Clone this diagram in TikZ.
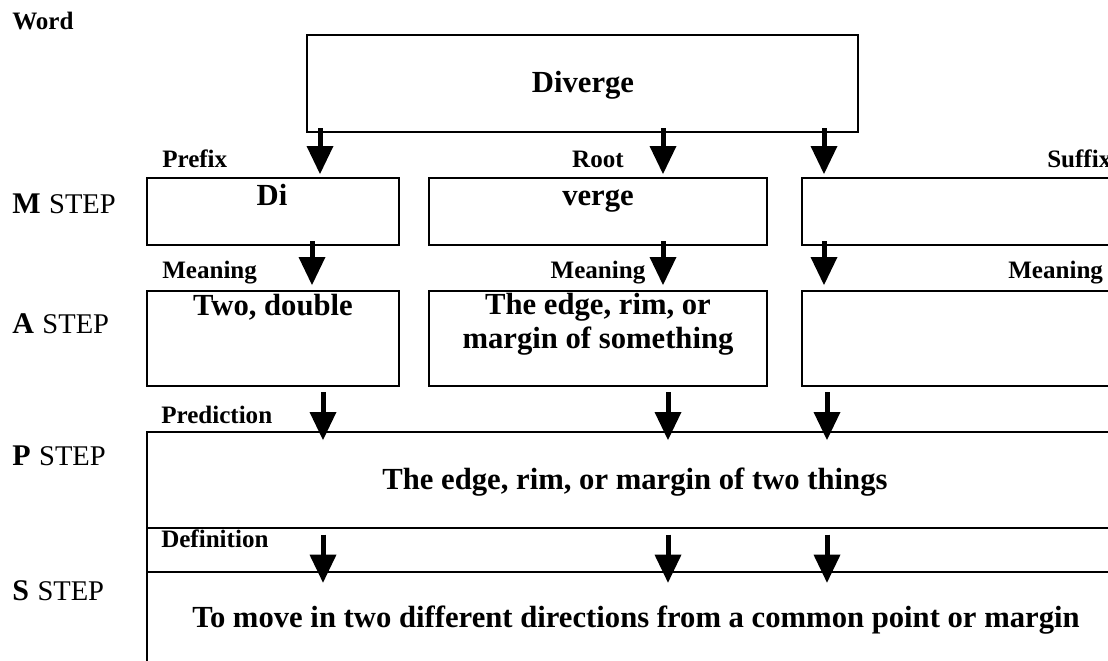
\documentclass[tikz,border=0pt]{standalone}
\usepackage{fontspec}
\setmainfont{Liberation Serif}
\usetikzlibrary{arrows.meta,calc}
\newcommand\mainf{\fontsize{23}{25.5}\selectfont\bfseries}
\newcommand\lblf{\fontsize{18.8}{20}\selectfont\bfseries}
\newcommand\stepf{\fontsize{21.4}{24}\selectfont}
\newcommand\stepletter[1]{{\fontsize{22.5}{24}\selectfont\bfseries #1}\hspace{0.3em}}
\begin{document}
\begin{tikzpicture}[x=0.75pt,y=-0.75pt,
  box/.style={draw,line width=1.8pt,inner sep=0pt,outer sep=0pt,rectangle},
  maintext/.style={font=\mainf,inner sep=0pt,align=center,anchor=base},
  lbl/.style={font=\lblf,inner sep=0pt,anchor=base},
  lblw/.style={font=\lblf,inner sep=0pt,anchor=base west},
  steplbl/.style={font=\stepf,inner sep=0pt,anchor=base west},
  arr/.style={line width=3.75pt,-{Triangle[width=20.25pt,length=21pt,line width=0pt]}}]
\useasboundingbox (0,0) rectangle (1108,661);
\clip (0,0) rectangle (1108,661);
% boxes
\node[box,minimum width=413.25pt,minimum height=72.75pt] (wd) at (582.5,83.5) {};
\node[box,minimum width=189pt,minimum height=50.25pt] (m1) at (273,211.5) {};
\node[box,minimum width=253.5pt,minimum height=50.25pt] (m2) at (598,211.5) {};
\node[box,minimum width=238.5pt,minimum height=50.25pt] (m3) at (961,211.5) {};
\node[box,minimum width=189pt,minimum height=71.25pt] (a1) at (273,338.5) {};
\node[box,minimum width=253.5pt,minimum height=71.25pt] (a2) at (598,338.5) {};
\node[box,minimum width=238.5pt,minimum height=71.25pt] (a3) at (961,338.5) {};
\node[box,minimum width=729.75pt,minimum height=72pt] (p) at (633.5,480) {};
\node[box,minimum width=729.75pt,minimum height=33pt] (df) at (633.5,550) {};
\node[box,minimum width=729.75pt,minimum height=73.5pt] (s) at (633.5,621) {};
% texts
\node[maintext] (twd) at (583,92) {Diverge};
\node[maintext] (tm1) at (272,205) {Di};
\node[maintext] (tm2) at (598,205) {verge};
\node[maintext] (ta1) at (273,315) {Two, double};
\node[maintext] (ta2a) at (598,314) {The edge, rim, or};
\node[maintext] (ta2b) at (598,348) {margin of something};
\node[maintext] (tp) at (635,489) {The edge, rim, or margin of two things};
\node[maintext] (ts) at (636,627) {To move in two different directions from a common point or margin};
% labels
\node[lblw] (lword) at (12,29) {Word};
\node[lblw] (lpre) at (162,167) {Prefix};
\node[lbl] (lroot) at (598,167) {Root};
\node[lblw] (lsuf) at (1047,167) {Suffix};
\node[lblw] (lme1) at (162,278) {Meaning};
\node[lbl] (lme2) at (598,278) {Meaning};
\node[lblw] (lme3) at (1008,278) {Meaning};
\node[lblw] (lpred) at (161,423) {Prediction};
\node[lblw] (ldef) at (161,547) {Definition};
% step labels
\node[steplbl] (sm) at (12,213) {\stepletter{M}STEP};
\node[steplbl] (sa) at (12,333) {\stepletter{A}STEP};
\node[steplbl] (sp) at (12,465) {\stepletter{P}STEP};
\node[steplbl] (ss) at (12,600) {\stepletter{S}STEP};
% arrow columns
\coordinate (c1a) at (320,0);
\coordinate (c1b) at (312,0);
\coordinate (c1c) at (323,0);
\coordinate (c2a) at (663,0);
\coordinate (c2c) at (668,0);
\coordinate (c3a) at (824,0);
\coordinate (c3c) at (827,0);
% row 1
\draw[arr] ([yshift=3pt]wd.south -| c1a) -- ([yshift=3pt]m1.north -| c1a);
\draw[arr] ([yshift=3pt]wd.south -| c2a) -- ([yshift=3pt]m2.north -| c2a);
\draw[arr] ([yshift=3pt]wd.south -| c3a) -- ([yshift=3pt]m3.north -| c3a);
% row 2
\draw[arr] ([yshift=3pt]m1.south -| c1b) -- ([yshift=4.5pt]a1.north -| c1b);
\draw[arr] ([yshift=3pt]m2.south -| c2a) -- ([yshift=4.5pt]a2.north -| c2a);
\draw[arr] ([yshift=3pt]m3.south -| c3a) -- ([yshift=4.5pt]a3.north -| c3a);
% row 3
\draw[arr] ([yshift=-4.5pt]a1.south -| c1c) -- ([yshift=-6pt]p.north -| c1c);
\draw[arr] ([yshift=-4.5pt]a2.south -| c2c) -- ([yshift=-6pt]p.north -| c2c);
\draw[arr] ([yshift=-4.5pt]a3.south -| c3c) -- ([yshift=-6pt]p.north -| c3c);
% row 4
\draw[arr] ([yshift=-5pt]df.north -| c1c) -- ([yshift=-8pt]s.north -| c1c);
\draw[arr] ([yshift=-5pt]df.north -| c2c) -- ([yshift=-8pt]s.north -| c2c);
\draw[arr] ([yshift=-5pt]df.north -| c3c) -- ([yshift=-8pt]s.north -| c3c);
\end{tikzpicture}
\end{document}
